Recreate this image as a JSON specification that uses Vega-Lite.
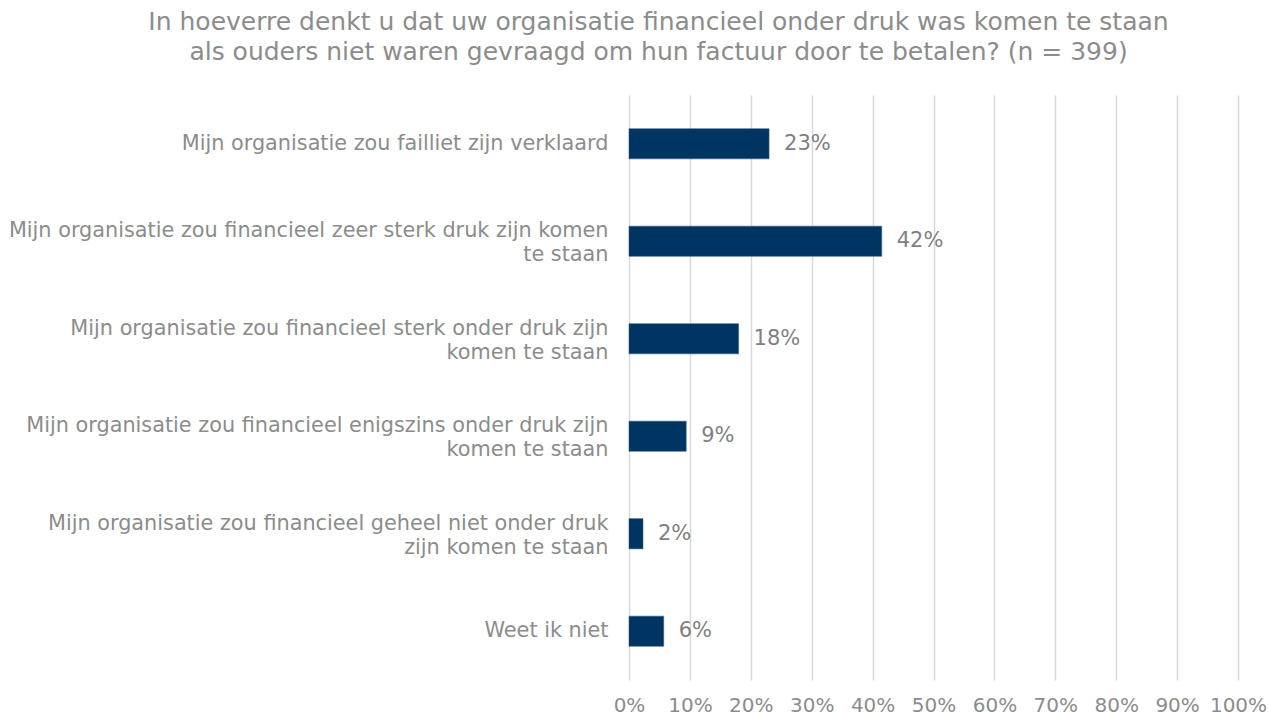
{
  "$schema": "https://vega.github.io/schema/vega-lite/v6.json",
  "autosize": {"type": "none"},
  "width": 609,
  "height": 585,
  "padding": {"left": 629, "top": 95, "right": 31, "bottom": 37},
  "background": "white",
  "config": {
    "view": {"stroke": null},
    "font": "DejaVu Sans"
  },
  "title": {
    "text": [
      "In hoeverre denkt u dat uw organisatie financieel onder druk was komen te staan",
      "als ouders niet waren gevraagd om hun factuur door te betalen? (n = 399)"
    ],
    "anchor": "middle",
    "frame": "group",
    "dx": -275,
    "offset": 30,
    "fontSize": 25,
    "fontWeight": "normal",
    "color": "#8c8c8c",
    "lineHeight": 30,
    "font": "DejaVu Sans"
  },
  "data": {
    "values": [
      {"label": "Mijn organisatie zou failliet zijn verklaard", "value": 0.23, "order": 1},
      {"label": "Mijn organisatie zou financieel zeer sterk druk zijn komen|te staan", "value": 0.415, "order": 2},
      {"label": "Mijn organisatie zou financieel sterk onder druk zijn|komen te staan", "value": 0.18, "order": 3},
      {"label": "Mijn organisatie zou financieel enigszins onder druk zijn|komen te staan", "value": 0.094, "order": 4},
      {"label": "Mijn organisatie zou financieel geheel niet onder druk|zijn komen te staan", "value": 0.023, "order": 5},
      {"label": "Weet ik niet", "value": 0.057, "order": 6}
    ]
  },
  "encoding": {
    "y": {
      "field": "label",
      "type": "nominal",
      "sort": {"field": "order"},
      "scale": {"paddingInner": 0.69, "paddingOuter": 0.345},
      "axis": {
        "title": null,
        "domain": false,
        "ticks": false,
        "labelExpr": "split(datum.label, '|')",
        "labelFontSize": 20.8,
        "labelColor": "#8c8c8c",
        "labelPadding": 21,
        "labelLineHeight": 24,
        "labelLimit": 700,
        "labelOffset": {"condition": {"test": "indexof(datum.value, '|') >= 0", "value": -10}, "value": 0},
        "labelFont": "DejaVu Sans"
      }
    },
    "x": {
      "field": "value",
      "type": "quantitative",
      "scale": {"domain": [0, 1], "nice": false},
      "axis": {
        "title": null,
        "format": ".0%",
        "values": [0, 0.1, 0.2, 0.3, 0.4, 0.5, 0.6, 0.7, 0.8, 0.9, 1.0],
        "domain": false,
        "ticks": false,
        "grid": true,
        "gridColor": "#d9d9d9",
        "gridWidth": 1.5,
        "labelFontSize": 20,
        "labelColor": "#8c8c8c",
        "labelPadding": 15,
        "labelOverlap": false,
        "labelFlush": false,
        "labelFont": "DejaVu Sans"
      }
    }
  },
  "layer": [
    {
      "mark": {"type": "bar", "color": "#003562", "stroke": "#2e5b84", "strokeWidth": 0.5}
    },
    {
      "mark": {"type": "text", "align": "left", "baseline": "middle", "dx": 15, "fontSize": 21, "color": "#7f7f7f", "font": "DejaVu Sans"},
      "encoding": {
        "text": {"field": "value", "type": "quantitative", "format": ".0%"}
      }
    }
  ]
}
